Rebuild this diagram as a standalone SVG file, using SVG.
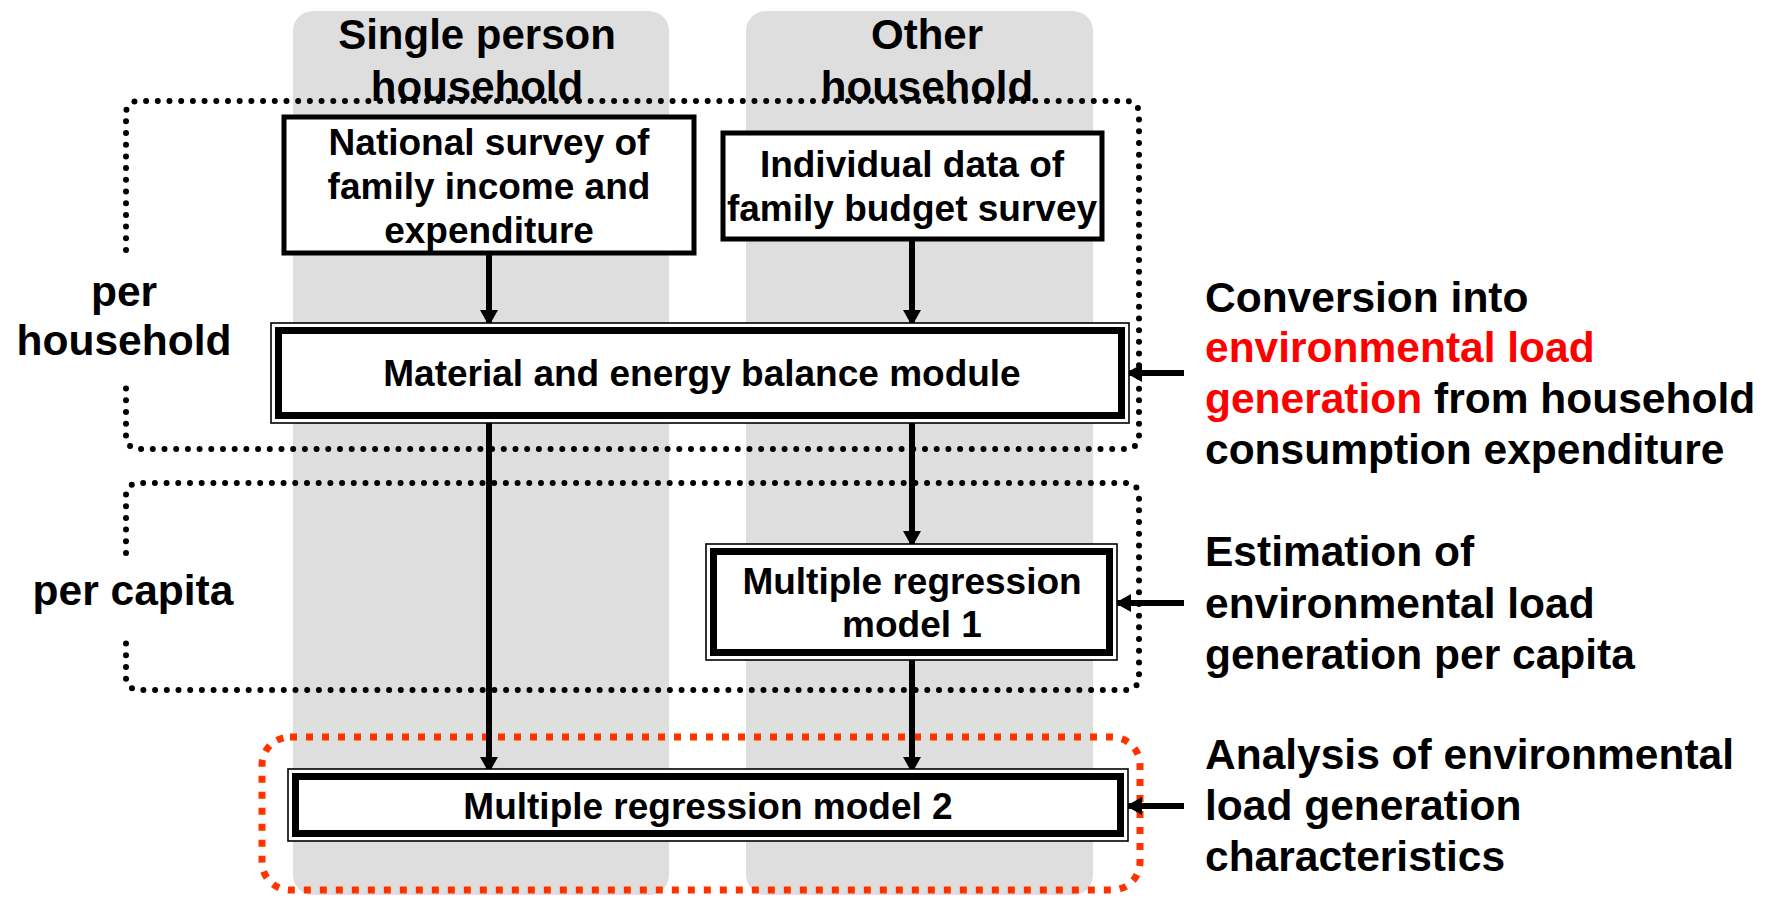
<svg xmlns="http://www.w3.org/2000/svg" width="1769" height="898" viewBox="0 0 1769 898">
<style>
text{font-family:"Liberation Sans",Arial,sans-serif;font-weight:bold;fill:#000}
.hdr{font-size:42px;text-anchor:middle}
.side{font-size:42.5px}
.bx{font-size:37px;text-anchor:middle}
.red{fill:#ff0000}
.col{fill:#dedede}
.box{fill:#fff;stroke:#000;stroke-width:5}
.outer{fill:#fff;stroke:#000;stroke-width:1.6}
.inner{fill:#fff;stroke:#000;stroke-width:7}
.dot{fill:none;stroke:#000;stroke-width:6;stroke-linecap:round;stroke-dasharray:0 11.7}
.conn{fill:none;stroke:#000;stroke-width:6}
</style>
<defs>
<marker id="ah" viewBox="0 0 16 18" refX="15" refY="9" markerWidth="16" markerHeight="18" markerUnits="userSpaceOnUse" orient="auto">
<path d="M0,0 L16,9 L0,18 Z" fill="#000"/>
</marker>
</defs>
<rect width="1769" height="898" fill="#fff"/>
<g id="columns">
<rect class="col" x="293" y="11" width="376" height="884" rx="20"/>
<rect class="col" x="746" y="11" width="347" height="884" rx="20"/>
</g>
<g id="headers">
<text class="hdr" x="477" y="49">Single person</text>
<text class="hdr" x="477" y="101">household</text>
<text class="hdr" x="927" y="49">Other</text>
<text class="hdr" x="927" y="101">household</text>
</g>
<g id="groups">
<path class="dot" d="M126,250 V113 A12,12 0 0 1 138,101 H1127 A12,12 0 0 1 1139,113 V437 A12,12 0 0 1 1127,449 H138 A12,12 0 0 1 126,437 V383"/>
<path class="dot" d="M126,553 V495 A12,12 0 0 1 138,483 H1127 A12,12 0 0 1 1139,495 V678 A12,12 0 0 1 1127,690 H138 A12,12 0 0 1 126,678 V641"/>
<rect x="262" y="737" width="878" height="153" rx="28" fill="none" stroke="#ff3300" stroke-width="7" stroke-dasharray="7 9"/>
<text class="side" x="124" y="306" text-anchor="middle">per</text>
<text class="side" x="124" y="355" text-anchor="middle">household</text>
<text class="side" x="133" y="605" text-anchor="middle">per capita</text>
</g>
<g id="connectors">
<line class="conn" x1="489" y1="253" x2="489" y2="325" marker-end="url(#ah)"/>
<line class="conn" x1="912" y1="239" x2="912" y2="325" marker-end="url(#ah)"/>
<line class="conn" x1="912" y1="423" x2="912" y2="546" marker-end="url(#ah)"/>
<line class="conn" x1="489" y1="423" x2="489" y2="772" marker-end="url(#ah)"/>
<line class="conn" x1="912" y1="660" x2="912" y2="772" marker-end="url(#ah)"/>
<line class="conn" x1="1184" y1="373" x2="1127" y2="373" marker-end="url(#ah)"/>
<line class="conn" x1="1184" y1="603" x2="1116" y2="603" marker-end="url(#ah)"/>
<line class="conn" x1="1184" y1="806" x2="1127" y2="806" marker-end="url(#ah)"/>
</g>
<g id="n1">
<rect class="box" x="284" y="117" width="410" height="136"/>
<text class="bx" x="489" y="155">National survey of</text>
<text class="bx" x="489" y="199">family income and</text>
<text class="bx" x="489" y="243">expenditure</text>
</g>
<g id="n2">
<rect class="box" x="723" y="133" width="379" height="106"/>
<text class="bx" x="912" y="177">Individual data of</text>
<text class="bx" x="912" y="221">family budget survey</text>
</g>
<g id="n3">
<rect class="outer" x="271" y="323" width="858" height="100"/>
<rect class="inner" x="278.5" y="330.5" width="843" height="85"/>
<text class="bx" x="702" y="386">Material and energy balance module</text>
</g>
<g id="n4">
<rect class="outer" x="706" y="544" width="411" height="116"/>
<rect class="inner" x="713.5" y="551.5" width="396" height="101"/>
<text class="bx" x="912" y="594">Multiple regression</text>
<text class="bx" x="912" y="637">model 1</text>
</g>
<g id="n5">
<rect class="outer" x="288" y="769" width="840" height="72"/>
<rect class="inner" x="295.5" y="776.5" width="825" height="57"/>
<text class="bx" x="708" y="819">Multiple regression model 2</text>
</g>
<g id="notes">
<text class="side" x="1205" y="312">Conversion into</text>
<text class="side red" x="1205" y="362">environmental load</text>
<text class="side" x="1205" y="413"><tspan class="red">generation</tspan> from household</text>
<text class="side" x="1205" y="464">consumption expenditure</text>
<text class="side" x="1205" y="566">Estimation of</text>
<text class="side" x="1205" y="618">environmental load</text>
<text class="side" x="1205" y="669">generation per capita</text>
<text class="side" x="1205" y="769">Analysis of environmental</text>
<text class="side" x="1205" y="820">load generation</text>
<text class="side" x="1205" y="871">characteristics</text>
</g>
</svg>
